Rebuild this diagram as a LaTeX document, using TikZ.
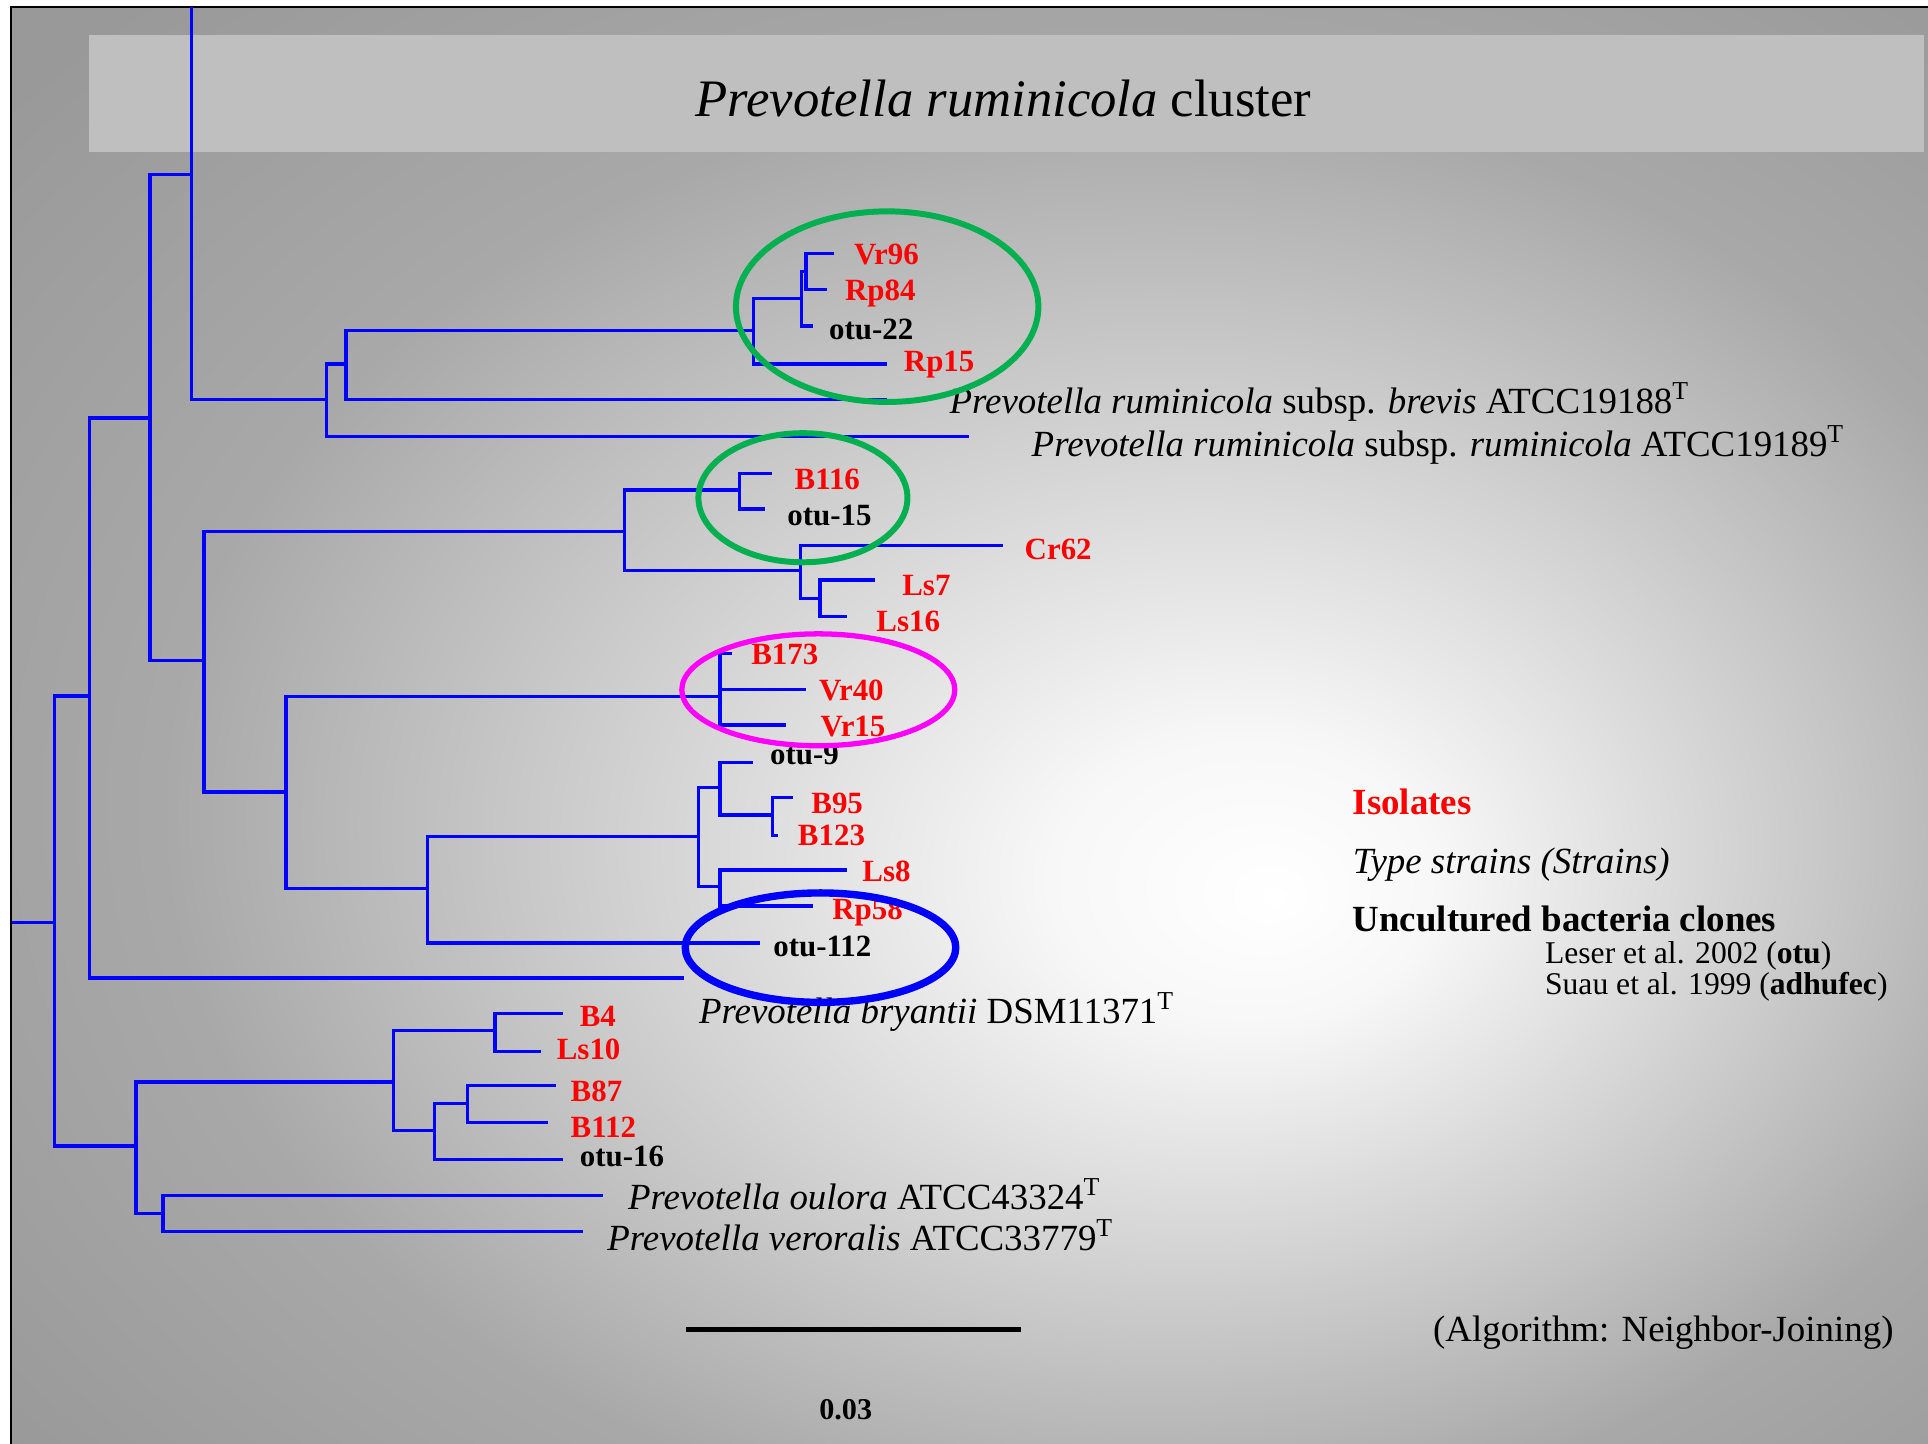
\documentclass[tikz,border=0pt]{standalone}
\usepackage{fontspec}
\setmainfont{Liberation Serif}

\definecolor{branchblue}{RGB}{0,0,255}
\definecolor{ringgreen}{RGB}{0,176,80}
\definecolor{ringpink}{RGB}{255,0,255}
\definecolor{bgedge}{gray}{0.66}
\definecolor{bgcorner}{gray}{0.60}
\definecolor{bgmid}{gray}{0.97}
\definecolor{bannergray}{gray}{0.75}

\pgfdeclareradialshading{slideglow}{\pgfpoint{8bp}{-6bp}}{color(0bp)=(white); color(5bp)=(bgmid); color(25bp)=(bgedge); color(36bp)=(bgcorner); color(50bp)=(bgcorner)}

\tikzset{
  branch/.style={draw=branchblue, line width=0.95pt},
  ring/.style={line width=1.7pt},
  leaf/.style={anchor=base west, inner sep=0pt, font=\bfseries\fontsize{8.8}{10}\selectfont},
  isolate/.style={leaf, text=red},
  clone/.style={leaf, text=black},
  strain/.style={anchor=base west, inner sep=0pt, font=\fontsize{10.5}{12}\selectfont},
  legend/.style={anchor=base west, inner sep=0pt, font=\fontsize{10.5}{12}\selectfont},
  reference/.style={anchor=base west, inner sep=0pt, font=\fontsize{9}{11}\selectfont}
}

\begin{document}
\begin{tikzpicture}[x=0.35pt, y=-0.35pt]
  \useasboundingbox (0,0) rectangle (1568,1174);
  \fill[white] (0,0) rectangle (1568,1174);
  \shade[shading=slideglow] (9,5.4) rectangle (1568,1174);
  \draw[line width=0.6pt] (9,1174) -- (9,5.4) -- (1568,5.4);
  \fill[bannergray] (72,28.5) rectangle (1565,123.4);
  \node[anchor=base west, inner sep=0pt, font=\fontsize{15}{18}\selectfont] (title) at (565.3,94.9)
    {\textit{Prevotella ruminicola} cluster};

  % inner nodes of the tree
  \begin{scope}
    \coordinate (root) at (10,750);
    \coordinate (n1) at (44.5,750);
    \coordinate (n2) at (73,566);
    \coordinate (n3) at (110.5,932);
    \coordinate (n4) at (122,340);
    \coordinate (n5) at (155.5,142);
    \coordinate (n5up) at (155.5,5.4);
    \coordinate (n6) at (166,537);
    \coordinate (n7) at (265.5,325);
    \coordinate (n8) at (281.5,296);
    \coordinate (n9) at (612.7,269);
    \coordinate (n10) at (652,242.6);
    \coordinate (n11) at (655.5,220.6);
    \coordinate (n12) at (508,432);
    \coordinate (n13) at (232.5,644);
    \coordinate (n14) at (601.3,398.6);
    \coordinate (n15) at (651,464);
    \coordinate (n16) at (667,486.6);
    \coordinate (n17) at (585.6,566.6);
    \coordinate (n18) at (347.5,722.5);
    \coordinate (n19) at (568,680.4);
    \coordinate (n20) at (585.6,640.6);
    \coordinate (n21) at (585.6,721);
    \coordinate (n22) at (628,662.8);
    \coordinate (n23) at (320,880);
    \coordinate (n24) at (132.5,987);
    \coordinate (n25) at (402.5,838);
    \coordinate (n26) at (353.4,919.6);
    \coordinate (n27) at (380,897.3);
  \end{scope}

  % branch tips
  \begin{scope}
    \coordinate (tVr96) at (678.3,206);
    \coordinate (tRp84) at (672.3,235.3);
    \coordinate (totu22) at (661,265);
    \coordinate (tRp15) at (721.6,296);
    \coordinate (tbrevis) at (721,325);
    \coordinate (trumin) at (788,355);
    \coordinate (tB116) at (628,385);
    \coordinate (totu15) at (622,414);
    \coordinate (tCr62) at (815.4,443.8);
    \coordinate (tLs7) at (712,471.7);
    \coordinate (tLs16) at (689,501.5);
    \coordinate (tB173) at (595,531.3);
    \coordinate (tVr40) at (655.2,560.6);
    \coordinate (tVr15) at (639.2,589.6);
    \coordinate (totu9) at (612.7,620);
    \coordinate (tB95) at (644.7,648.5);
    \coordinate (tB123) at (633,679.6);
    \coordinate (tLs8) at (688.6,707.5);
    \coordinate (tRp58) at (661,736.8);
    \coordinate (totu112) at (618,767);
    \coordinate (tbryantii) at (556.5,795.5);
    \coordinate (tB4) at (458,824);
    \coordinate (tLs10) at (440,855);
    \coordinate (tB87) at (452,883);
    \coordinate (tB112) at (446,913);
    \coordinate (totu16) at (458,943);
    \coordinate (toulora) at (490,972);
    \coordinate (tveroralis) at (474,1001.7);
  \end{scope}

  \begin{scope}[every path/.style={branch}]
    \draw (root) -- (n1);
    \draw (n1) |- (n2) (n1) |- (n3);
    \draw (n2) |- (n4) (n2) |- (tbryantii);
    \draw (n4) |- (n5) (n4) |- (n6);
    \draw (n5) -- (n5up) (n5) |- (n7);
    \draw (n7) |- (n8) (n7) |- (trumin);
    \draw (n8) |- (n9) (n8) |- (tbrevis);
    \draw (n9) |- (n10) (n9) |- (tRp15);
    \draw (n10) |- (n11) (n10) |- (totu22);
    \draw (n11) |- (tVr96) (n11) |- (tRp84);
    \draw (n6) |- (n12) (n6) |- (n13);
    \draw (n12) |- (n14) (n12) |- (n15);
    \draw (n14) |- (tB116) (n14) |- (totu15);
    \draw (n15) |- (tCr62) (n15) |- (n16);
    \draw (n16) |- (tLs7) (n16) |- (tLs16);
    \draw (n13) |- (n17) (n13) |- (n18);
    \draw (n17) |- (tB173) (n17) |- (tVr40) (n17) |- (tVr15);
    \draw (n18) |- (n19) (n18) |- (totu112);
    \draw (n19) |- (n20) (n19) |- (n21);
    \draw (n20) |- (totu9) (n20) |- (n22);
    \draw (n22) |- (tB95) (n22) |- (tB123);
    \draw (n21) |- (tLs8) (n21) |- (tRp58);
    \draw (n3) |- (n23) (n3) |- (n24);
    \draw (n23) |- (n25) (n23) |- (n26);
    \draw (n25) |- (tB4) (n25) |- (tLs10);
    \draw (n26) |- (n27) (n26) |- (totu16);
    \draw (n27) |- (tB87) (n27) |- (tB112);
    \draw (n24) |- (toulora) (n24) |- (tveroralis);
  \end{scope}

  \node[isolate] (Vr96) at (694,215.5) {Vr96};
  \node[isolate] (Rp84) at (686.7,244.5) {Rp84};
  \node[clone] (otu22) at (673.7,276.5) {otu-22};
  \node[isolate] (Rp15) at (734.6,302.3) {Rp15};
  \node[isolate] (B116) at (645.7,398) {B116};
  \node[clone] (otu15) at (639.8,427) {otu-15};
  \node[isolate] (Cr62) at (832.8,455.4) {Cr62};
  \node[isolate] (Ls7) at (733.3,484) {Ls7};
  \node[isolate] (Ls16) at (712.2,513.7) {Ls16};
  \node[isolate] (B173) at (610.5,540.8) {B173};
  \node[isolate] (Vr40) at (665.5,569.3) {Vr40};
  \node[isolate] (Vr15) at (666.9,599) {Vr15};
  \node[clone] (otu9) at (625.7,622) {otu-9};
  \node[isolate] (B95) at (659.3,661.5) {B95};
  \node[isolate] (B123) at (648.4,688) {B123};
  \node[isolate] (Ls8) at (700.8,716.5) {Ls8};
  \node[isolate] (Rp58) at (676.4,748.2) {Rp58};
  \node[clone] (otu112) at (628.4,778) {otu-112};
  \node[isolate] (B4) at (471,835) {B4};
  \node[isolate] (Ls10) at (452.3,861.5) {Ls10};
  \node[isolate] (B87) at (463.6,896) {B87};
  \node[isolate] (B112) at (463.6,925.2) {B112};
  \node[clone] (otu16) at (471,948.8) {otu-16};

  \node[strain] (brevis) at (771.8,336)
    {\textit{Prevotella ruminicola} subsp. \textit{brevis} ATCC19188\textsuperscript{T}};
  \node[strain] (rumin) at (838.5,371.4)
    {\textit{Prevotella ruminicola} subsp. \textit{ruminicola} ATCC19189\textsuperscript{T}};
  \node[strain] (bryantii) at (568,832.2) {\textit{Prevotella bryantii} DSM11371\textsuperscript{T}};
  \node[strain] (oulora) at (510.2,984) {\textit{Prevotella oulora} ATCC43324\textsuperscript{T}};
  \node[strain] (veroralis) at (493.4,1016.6) {\textit{Prevotella veroralis} ATCC33779\textsuperscript{T}};

  \node[legend, text=red, font=\bfseries\fontsize{10.5}{12}\selectfont] (isolates) at (1099.6,662.8) {Isolates};
  \node[legend, font=\itshape\fontsize{10.5}{12}\selectfont] (typestrains) at (1099.6,710.3) {Type strains (Strains)};
  \node[legend, font=\bfseries\fontsize{10.5}{12}\selectfont] (uncultured) at (1099.6,757.7) {Uncultured bacteria clones};
  \node[reference] (leser) at (1256,783.5) {Leser et al. 2002 (\textbf{otu})};
  \node[reference] (suau) at (1256,809.2) {Suau et al. 1999 (\textbf{adhufec})};
  \node[legend] (algorithm) at (1165,1091.2) {(Algorithm: Neighbor-Joining)};

  \coordinate (bar-l) at (558.2,1081);
  \coordinate (bar-r) at (830.2,1081);
  \draw[line width=1.4pt] (bar-l) -- (bar-r);
  \node[anchor=base west, inner sep=0pt, font=\bfseries\fontsize{8.6}{10}\selectfont] (barlabel) at (665.7,1154.3) {0.03};

  \begin{scope}[every path/.style={ring}]
    \draw[ringgreen] (721.5,249.4) ellipse [x radius=123, y radius=77.5];
    \draw[ringgreen] (653,404.8) ellipse [x radius=85, y radius=52.5];
    \draw[ringpink, line width=1.5pt] (665.5,561) ellipse [x radius=111, y radius=45.5];
    \draw[branchblue, line width=2.1pt] (667.3,770.7) ellipse [x radius=110, y radius=44.5];
  \end{scope}
\end{tikzpicture}
\end{document}
